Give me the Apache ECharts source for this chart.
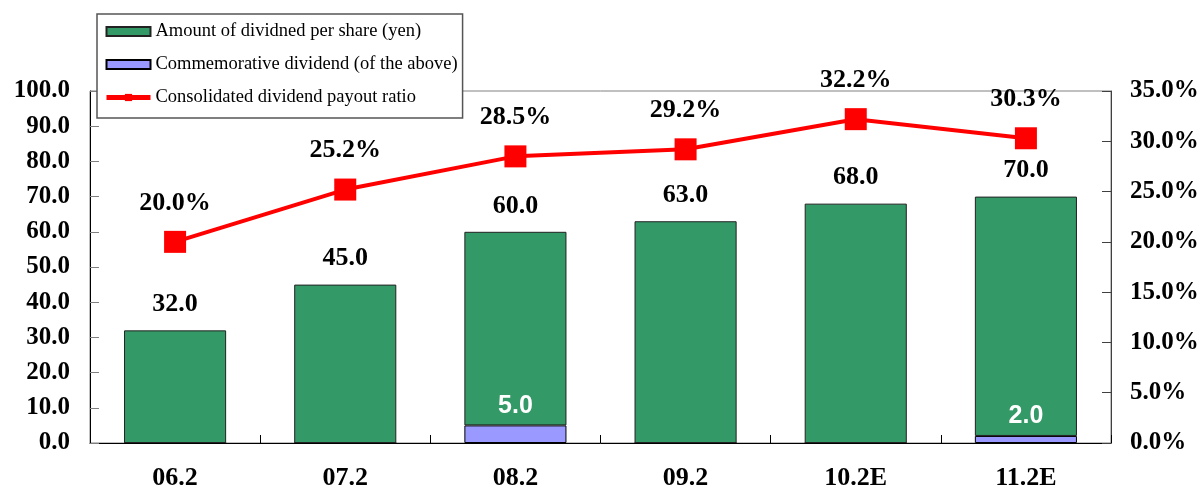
<!DOCTYPE html>
<html><head><meta charset="utf-8">
<script src="https://cdn.jsdelivr.net/npm/echarts@6/dist/echarts.min.js"></script>
<style>html,body{margin:0;padding:0;background:#fff}#c{width:1204px;height:489px}</style>
</head><body><div id="c"></div>
<script>
const categories = ['06.2','07.2','08.2','09.2','10.2E','11.2E'];
const dividendTotal = [32.0, 45.0, 60.0, 63.0, 68.0, 70.0];
const commemorative = [0, 0, 5.0, 0, 0, 2.0];
const payoutRatio = [20.0, 25.2, 28.5, 29.2, 32.2, 30.3];
const leftTicks = {min: 0, max: 100, interval: 10};
const rightTicks = {min: 0, max: 35, interval: 5};

const serif = '"Liberation Serif","Times New Roman",serif';
const greenPart = dividendTotal.map((t, i) => +(t - commemorative[i]).toFixed(1));

const chart = echarts.init(document.getElementById('c'), null, {renderer: 'canvas'});
chart.setOption({
  animation: false,
  backgroundColor: '#fff',
  grid: {left: 90, right: 93, top: 91, bottom: 46, containLabel: false, outerBoundsMode: 'none',
         show: true, borderColor: '#808080', borderWidth: 1, backgroundColor: 'transparent'},
  legend: {
    orient: 'vertical', left: 97, top: 14,
    padding: [8, 5, 11, 7], itemGap: 14, itemWidth: 44, itemHeight: 9,
    backgroundColor: '#fff', borderColor: '#555', borderWidth: 1.5,
    textStyle: {fontFamily: serif, fontSize: 18.5, lineHeight: 18, color: '#000'},
    data: [
      {name: 'Amount of dividned per share (yen)', icon: 'rect'},
      {name: 'Commemorative dividend (of the above)', icon: 'rect'},
      {name: 'Consolidated dividend payout ratio', lineStyle: {width: 5, color: '#FF0000'}}
    ]
  },
  xAxis: {
    type: 'category', data: categories,
    axisLine: {lineStyle: {color: '#000', width: 1}},
    axisTick: {show: true, inside: true, length: 8, lineStyle: {color: '#000'}},
    axisLabel: {fontFamily: serif, fontWeight: 'bold', fontSize: 26, color: '#000', margin: 22}
  },
  yAxis: [
    {type: 'value', min: leftTicks.min, max: leftTicks.max, interval: leftTicks.interval,
     axisLine: {show: true, lineStyle: {color: '#000'}},
     axisTick: {show: true, inside: true, length: 9, lineStyle: {color: '#808080'}},
     splitLine: {show: false},
     axisLabel: {fontFamily: serif, fontWeight: 'bold', fontSize: 25, color: '#000', margin: 20,
       formatter: v => v.toFixed(1)}},
    {type: 'value', min: rightTicks.min, max: rightTicks.max, interval: rightTicks.interval, position: 'right',
     axisLine: {show: true, lineStyle: {color: '#404040'}},
     axisTick: {show: true, inside: true, length: 9, lineStyle: {color: '#404040'}},
     splitLine: {show: false},
     axisLabel: {fontFamily: serif, fontWeight: 'bold', fontSize: 25, color: '#000', margin: 19,
       formatter: v => v.toFixed(1) + '%'}}
  ],
  series: [
    {name: 'Commemorative dividend (of the above)', type: 'bar', stack: 'd', barWidth: '60%',
     data: commemorative,
     itemStyle: {color: '#9999FF', borderColor: '#000', borderWidth: 1},
     label: {show: true, position: 'top', distance: 7, color: '#fff', fontFamily: '"Liberation Sans",Arial,sans-serif',
       fontWeight: 'bold', fontSize: 25,
       formatter: p => p.value > 0 ? p.value.toFixed(1) : ''}},
    {name: 'Amount of dividned per share (yen)', type: 'bar', stack: 'd', barWidth: '60%',
     data: greenPart,
     itemStyle: {color: '#339966', borderColor: '#222', borderWidth: 1},
     label: {show: true, position: 'top', distance: 13, color: '#000', fontFamily: serif,
       fontWeight: 'bold', fontSize: 26,
       formatter: p => dividendTotal[p.dataIndex].toFixed(1)}},
    {name: 'Consolidated dividend payout ratio', type: 'line', yAxisIndex: 1, z: 5,
     data: payoutRatio,
     symbol: 'rect', symbolSize: 22,
     lineStyle: {color: '#FF0000', width: 4},
     itemStyle: {color: '#FF0000'},
     label: {show: true, position: 'top', distance: 15, color: '#000', fontFamily: serif,
       fontWeight: 'bold', fontSize: 26,
       formatter: p => p.value.toFixed(1) + '%'}}
  ]
});
</script></body></html>
